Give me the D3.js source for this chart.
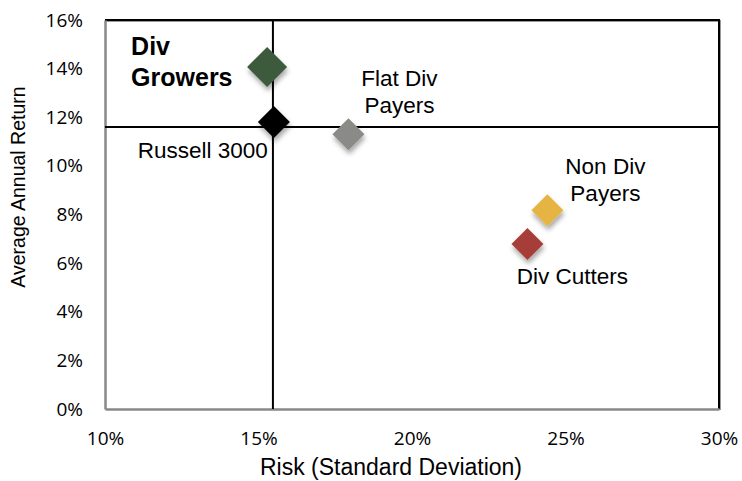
<!DOCTYPE html>
<html lang="en">
<head>
  <meta charset="utf-8">
  <title>Risk vs Return</title>
  <script src="https://cdn.jsdelivr.net/npm/d3@7/dist/d3.min.js"></script>
  <style>
    body { margin: 0; background: #fff; }
    text { font-family: "Liberation Sans", Arial, sans-serif; fill: #000; }
    .tick text { font-family: "Open Sans", "DejaVu Sans", sans-serif; }
  </style>
</head>
<body>
  <svg class="chart" width="742" height="481"></svg>
  <script>
    var width = 742, height = 481;
    var margin = { top: 20, right: 23, bottom: 72, left: 105 };

    // data
    var groups = ["Div Growers", "Russell 3000", "Flat Div Payers", "Non Div Payers", "Div Cutters"];
    var risk   = [15.28, 15.5, 17.93, 24.41, 23.76];
    var ret    = [14.07, 11.8, 11.3, 8.17, 6.79];
    var colors = ["#3c5a3d", "#000000", "#8a8a86", "#e5b443", "#a63d38"];
    var sizes  = [20, 16, 16, 16, 16];
    var xTicks = [10, 15, 20, 25, 30];
    var yTicks = [0, 2, 4, 6, 8, 10, 12, 14, 16];
    var refRisk = 15.47, refReturn = 11.6;

    var svg = d3.select("svg.chart");

    var x = d3.scaleLinear().domain([10, 30]).range([margin.left, width - margin.right]);
    var y = d3.scaleLinear().domain([0, 16]).range([height - margin.bottom, margin.top]);

    var defs = svg.append("defs");
    var f = defs.append("filter").attr("id", "shadow")
      .attr("x", "-50%").attr("y", "-50%").attr("width", "200%").attr("height", "200%");
    f.append("feDropShadow").attr("dx", 1).attr("dy", 4).attr("stdDeviation", 2.5)
      .attr("flood-color", "#000").attr("flood-opacity", 0.35);

    // frame: top/right dark
    svg.append("path")
      .attr("d", "M" + x(10) + "," + y(16) + "H" + x(30) + "V" + y(0))
      .attr("fill", "none").attr("stroke", "#999").attr("stroke-width", 2)
      .attr("transform", "translate(1,1)");
    svg.append("path")
      .attr("d", "M" + x(10) + "," + y(16) + "H" + x(30) + "V" + y(0))
      .attr("fill", "none").attr("stroke", "#000").attr("stroke-width", 2);

    // axes
    var xAxis = svg.append("g")
      .attr("transform", "translate(0," + y(0) + ")")
      .call(d3.axisBottom(x).tickValues(xTicks).tickSize(0).tickPadding(23)
        .tickFormat(function(d) { return d + "%"; }));
    xAxis.select(".domain").attr("stroke", "#888").attr("stroke-width", 2.5);
    xAxis.selectAll("text").attr("font-size", 19).attr("fill", "#000");

    var yAxis = svg.append("g")
      .attr("transform", "translate(" + x(10) + ",0)")
      .call(d3.axisLeft(y).tickValues(yTicks).tickSize(0).tickPadding(22)
        .tickFormat(function(d) { return d + "%"; }));
    yAxis.select(".domain").attr("stroke", "#888").attr("stroke-width", 2.5);
    yAxis.selectAll("text").attr("font-size", 19).attr("fill", "#000");

    // reference lines (Russell 3000)
    svg.append("line")
      .attr("x1", x(refRisk)).attr("x2", x(refRisk))
      .attr("y1", y(16) - 1).attr("y2", y(0))
      .attr("stroke", "#000").attr("stroke-width", 2);
    svg.append("line")
      .attr("x1", x(10)).attr("x2", x(30))
      .attr("y1", y(refReturn)).attr("y2", y(refReturn))
      .attr("stroke", "#000").attr("stroke-width", 2);

    // diamonds
    svg.selectAll(".pt")
      .data(groups)
      .enter().append("path")
      .attr("class", "pt")
      .attr("d", function(d, i) {
        var s = sizes[i];
        return "M0," + (-s) + "L" + s + ",0L0," + s + "L" + (-s) + ",0Z";
      })
      .attr("transform", function(d, i) { return "translate(" + x(risk[i]) + "," + y(ret[i]) + ")"; })
      .attr("fill", function(d, i) { return colors[i]; })
      .attr("filter", "url(#shadow)");

    // point labels
    var labels = [
      { i: 0, lines: ["Div", "Growers"], dx: -136, dy: -12, anchor: "start", bold: true },
      { i: 1, lines: ["Russell 3000"], dx: -71, dy: 36, anchor: "middle" },
      { i: 2, lines: ["Flat Div", "Payers"], dx: 51, dy: -48, anchor: "middle" },
      { i: 3, lines: ["Non Div", "Payers"], dx: 58, dy: -36, anchor: "middle" },
      { i: 4, lines: ["Div Cutters"], dx: 45, dy: 40, anchor: "middle" }
    ];
    labels.forEach(function(l) {
      var t = svg.append("text")
        .attr("text-anchor", l.anchor)
        .attr("font-size", l.bold ? 25 : 22.5)
        .attr("font-weight", l.bold ? "bold" : "normal");
      l.lines.forEach(function(s, k) {
        t.append("tspan")
          .attr("x", x(risk[l.i]) + l.dx)
          .attr("y", y(ret[l.i]) + l.dy + k * (l.bold ? 31 : 27))
          .text(s);
      });
    });

    // axis titles
    svg.append("text")
      .attr("x", 391).attr("y", 475)
      .attr("text-anchor", "middle").attr("font-size", 23)
      .text("Risk (Standard Deviation)");
    svg.append("text")
      .attr("transform", "translate(25,187) rotate(-90)")
      .attr("text-anchor", "middle").attr("font-size", 19.5)
      .text("Average Annual Return");
  </script>
</body>
</html>
